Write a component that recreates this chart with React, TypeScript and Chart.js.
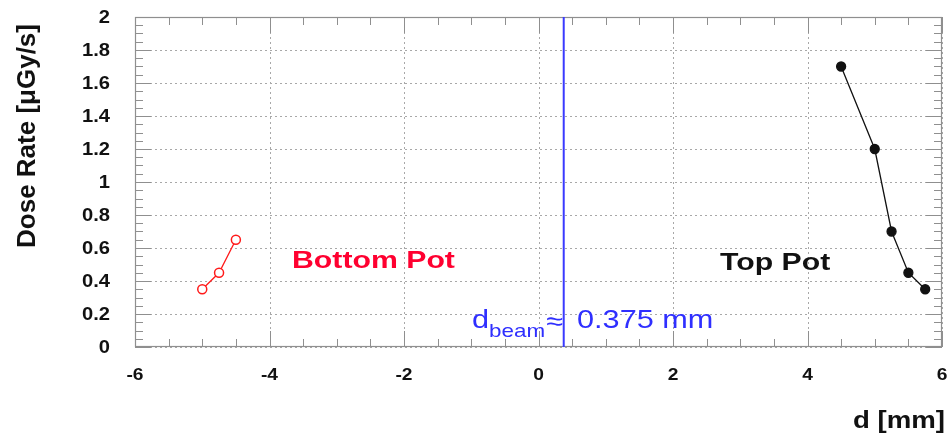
import { useEffect, useRef } from "react"
import { Chart, registerables } from "chart.js"

Chart.register(...registerables)

// data
const bottomD = [-5, -4.75, -4.5]
const bottomRate = [0.35, 0.45, 0.65]
const topD = [4.5, 5, 5.25, 5.5, 5.75]
const topRate = [1.7, 1.2, 0.7, 0.45, 0.35]
const beamD = 0.375

const xTickValues = [-6, -4, -2, 0, 2, 4, 6]
const yTickValues = [0, 0.2, 0.4, 0.6, 0.8, 1, 1.2, 1.4, 1.6, 1.8, 2]
const xMinorStep = 0.5
const yMinorStep = 0.05

const FONT = "'Liberation Sans', Arial, Helvetica, sans-serif"
const FRAME = "#8f8f8f"

function drawText(
  ctx: CanvasRenderingContext2D,
  text: string,
  x: number,
  y: number,
  font: string,
  color: string,
  sx = 1,
  align: CanvasTextAlign = "left",
  baseline: CanvasTextBaseline = "alphabetic"
) {
  ctx.save()
  ctx.translate(x, y)
  ctx.scale(sx, 1)
  ctx.font = font
  ctx.fillStyle = color
  ctx.textAlign = align
  ctx.textBaseline = baseline
  ctx.fillText(text, 0, 0)
  ctx.restore()
}

// frame, dotted grid, ticks on all sides, labels and annotations
const rootFramePlugin = {
  id: "rootFrame",
  beforeDatasetsDraw(chart: Chart) {
    const ctx = chart.ctx
    const { left, right, top, bottom } = chart.chartArea
    const xs = chart.scales.x
    const ys = chart.scales.y

    ctx.save()
    // dotted grid
    ctx.strokeStyle = "#a8a8a8"
    ctx.lineWidth = 1
    ctx.setLineDash([2, 3])
    for (const v of xTickValues) {
      const px = Math.round(xs.getPixelForValue(v)) + 0.5
      ctx.beginPath()
      ctx.moveTo(px, top)
      ctx.lineTo(px, bottom)
      ctx.stroke()
    }
    for (const v of yTickValues) {
      const py = Math.round(ys.getPixelForValue(v)) + 0.5
      ctx.beginPath()
      ctx.moveTo(left, py)
      ctx.lineTo(right, py)
      ctx.stroke()
    }
    ctx.setLineDash([])

    // ticks
    ctx.strokeStyle = FRAME
    const xMin = xs.min
    const xMax = xs.max
    for (let i = 0; xMin + i * xMinorStep <= xMax + 1e-9; i++) {
      const v = xMin + i * xMinorStep
      const major = Math.abs(v / 2 - Math.round(v / 2)) < 1e-6
      const len = major ? 16 : 8
      const px = Math.round(xs.getPixelForValue(v)) + 0.5
      ctx.beginPath()
      ctx.moveTo(px, bottom)
      ctx.lineTo(px, bottom - len)
      ctx.moveTo(px, top)
      ctx.lineTo(px, top + len)
      ctx.stroke()
    }
    const yMin = ys.min
    const yMax = ys.max
    for (let i = 0; yMin + i * yMinorStep <= yMax + 1e-9; i++) {
      const v = yMin + i * yMinorStep
      const major = Math.abs(v / 0.2 - Math.round(v / 0.2)) < 1e-6
      const len = major ? 16 : 8
      const py = Math.round(ys.getPixelForValue(v)) + 0.5
      ctx.beginPath()
      ctx.moveTo(left, py)
      ctx.lineTo(left + len, py)
      ctx.moveTo(right, py)
      ctx.lineTo(right - len, py)
      ctx.stroke()
    }

    // frame
    ctx.strokeStyle = FRAME
    ctx.lineWidth = 1.2
    ctx.strokeRect(left + 0.5, top + 0.5, right - left - 1, bottom - top - 1)
    ctx.restore()

    // tick labels
    for (const v of xTickValues) {
      drawText(ctx, String(v), xs.getPixelForValue(v), 376, `bold 16px ${FONT}`, "#111", 1.2, "center", "middle")
    }
    for (const v of yTickValues) {
      drawText(ctx, String(Number(v.toFixed(2))), 110, ys.getPixelForValue(v) + 1, `bold 18px ${FONT}`, "#111", 1.12, "right", "middle")
    }

    // axis titles
    ctx.save()
    ctx.translate(35, 136)
    ctx.rotate(-Math.PI / 2)
    drawText(ctx, "Dose Rate [\u03bcGy/s]", 0, 0, `bold 26px ${FONT}`, "#111", 1, "center")
    ctx.restore()
    drawText(ctx, "d [mm]", 853, 428, `bold 24px ${FONT}`, "#111", 1.15)

    // annotations
    drawText(ctx, "Bottom Pot", 292, 268, `bold 24px ${FONT}`, "#ff0030", 1.26)
    drawText(ctx, "Top Pot", 720, 270, `bold 24px ${FONT}`, "#111", 1.26)
    const blue = "#2f2fff"
    drawText(ctx, "d", 472, 328, `26px ${FONT}`, blue, 1.18)
    drawText(ctx, "beam", 489, 337, `19px ${FONT}`, blue, 1.18)
    drawText(ctx, "\u2248", 546, 330, `26px ${FONT}`, blue, 1.18)
    drawText(ctx, "0.375 mm", 577, 328, `26px ${FONT}`, blue, 1.18)
  },
}

export default function App() {
  const chartRef = useRef<HTMLCanvasElement>(null)
  const chartInstance = useRef<Chart | null>(null)

  useEffect(() => {
    if (!chartRef.current) return
    if (chartInstance.current) chartInstance.current.destroy()

    const ctx = chartRef.current.getContext("2d")
    if (!ctx) return

    chartInstance.current = new Chart(ctx, {
      type: "scatter",
      data: {
        datasets: [
          {
            label: "beam",
            data: [
              { x: beamD, y: 0 },
              { x: beamD, y: 2 },
            ],
            showLine: true,
            borderColor: "#3a3aff",
            borderWidth: 2,
            pointRadius: 0,
          },
          {
            label: "Bottom Pot",
            data: bottomD.map((d, i) => ({ x: d, y: bottomRate[i] })),
            showLine: true,
            borderColor: "#ff1a1a",
            backgroundColor: "#ffffff",
            borderWidth: 1.3,
            pointRadius: 4.5,
            pointBorderWidth: 1.5,
          },
          {
            label: "Top Pot",
            data: topD.map((d, i) => ({ x: d, y: topRate[i] })),
            showLine: true,
            borderColor: "#111111",
            backgroundColor: "#111111",
            borderWidth: 1.3,
            pointRadius: 4.5,
          },
        ],
      },
      options: {
        responsive: false,
        animation: false,
        devicePixelRatio: 1,
        layout: { padding: { left: 0, top: 17, right: 4, bottom: 0 } },
        plugins: {
          legend: { display: false },
          tooltip: { enabled: false },
        },
        scales: {
          x: {
            type: "linear",
            min: -6,
            max: 6,
            ticks: { display: false },
            grid: { display: false },
            border: { display: false },
            afterFit: (scale: any) => {
              scale.height = 87
            },
          },
          y: {
            type: "linear",
            min: 0,
            max: 2,
            ticks: { display: false },
            grid: { display: false },
            border: { display: false },
            afterFit: (scale: any) => {
              scale.width = 135
            },
          },
        },
      },
      plugins: [rootFramePlugin],
    })

    return () => {
      if (chartInstance.current) {
        chartInstance.current.destroy()
        chartInstance.current = null
      }
    }
  }, [])

  return (
    <div style={{ position: "absolute", left: 0, top: 0, width: 948, height: 434, background: "#fff" }}>
      <canvas ref={chartRef} width={948} height={434} />
    </div>
  )
}
